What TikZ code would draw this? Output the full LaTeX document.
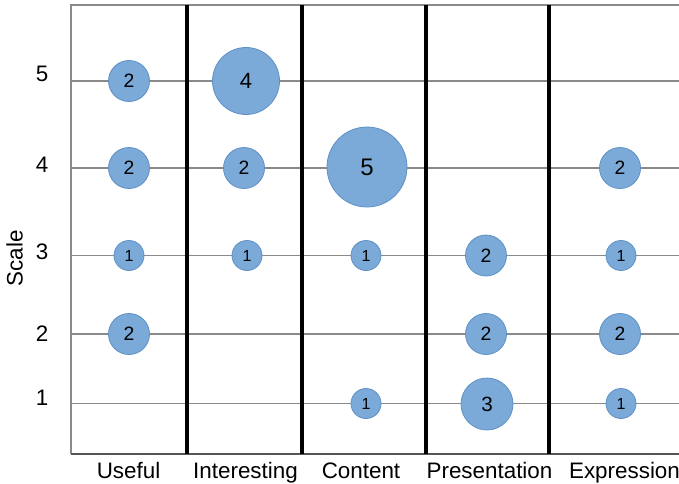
\documentclass[tikz,border=0pt]{standalone}
\usepackage{fontspec}
\setmainfont{Liberation Sans}
\definecolor{bubblefill}{HTML}{7BAAD8}
\definecolor{bubbleline}{HTML}{5E90C6}
\definecolor{gridgray}{HTML}{8A8A8A}
\definecolor{axisgray}{HTML}{555555}
\tikzset{
	bubble/.style={circle,draw=bubbleline,fill=bubblefill,inner sep=0pt,line width=0.6pt},
	one/.style={bubble,minimum size=22.5pt,font=\fontsize{12}{13}\selectfont},
	two/.style={bubble,minimum size=30.75pt,font=\fontsize{14.5}{15}\selectfont},
	three/.style={bubble,minimum size=39pt,font=\fontsize{15.5}{16}\selectfont},
	four/.style={bubble,minimum size=50.25pt,font=\fontsize{16.5}{17}\selectfont},
	five/.style={bubble,minimum size=60pt,font=\fontsize{18}{19}\selectfont},
	axislabel/.style={anchor=base,font=\fontsize{16.8}{18}\selectfont}
}
\begin{document}
\begin{tikzpicture}[x=0.75pt,y=-0.75pt]
		\useasboundingbox (0,0) rectangle (679,483);
		% grid lines
		\draw[gridgray,line width=1.1pt] (71,81) -- (679,81);
		\draw[gridgray,line width=1.1pt] (71,168) -- (679,168);
		\draw[gridgray,line width=1.1pt] (71,255.5) -- (679,255.5);
		\draw[gridgray,line width=1.1pt] (71,334) -- (679,334);
		\draw[gridgray,line width=1.1pt] (71,403.5) -- (679,403.5);
		% frame
		\draw[gridgray,line width=1.1pt] (679,5) -- (71,5) -- (71,454);
		\draw[axisgray,line width=1.1pt] (71,454) -- (679,454);
		\draw[line width=3pt] (187,5) -- (187,454);
		\draw[line width=3pt] (302,5) -- (302,454);
		\draw[line width=3pt] (426,5) -- (426,454);
		\draw[line width=3pt] (549,5) -- (549,454);
		% scale
		\node[axislabel] (s5) at (42,81) {5};
		\node[axislabel] (s4) at (42,172.7) {4};
		\node[axislabel] (s3) at (42,259.3) {3};
		\node[axislabel] (s2) at (42,341.7) {2};
		\node[axislabel] (s1) at (42,405.7) {1};
		\node[axislabel,rotate=90] (scale) at (22.7,258.5) {Scale};
		% categories
		\node[axislabel] (useful) at (128.5,478) {Useful};
		\node[axislabel] (interesting) at (245.5,478) {Interesting};
		\node[axislabel] (content) at (361,478) {Content};
		\node[axislabel] (presentation) at (489.5,478) {Presentation};
		\node[axislabel] (expression) at (624.5,478) {Expression};
		% bubbles
		\node[two] (u5) at (129,81) {2};
		\node[two] (u4) at (129,168) {2};
		\node[one] (u3) at (129,255.5) {1};
		\node[two] (u2) at (129,334) {2};
		\node[four] (i5) at (246,81) {4};
		\node[two] (i4) at (244,168) {2};
		\node[one] (i3) at (247,255.5) {1};
		\node[five] (c4) at (367,167) {5};
		\node[one] (c3) at (366,255.5) {1};
		\node[one] (c1) at (366,403.5) {1};
		\node[two] (p3) at (486,255.5) {2};
		\node[two] (p2) at (486,334) {2};
		\node[three] (p1) at (487,404) {3};
		\node[two] (e4) at (620,168) {2};
		\node[one] (e3) at (621,255.5) {1};
		\node[two] (e2) at (620,334) {2};
		\node[one] (e1) at (621,403.5) {1};
	\end{tikzpicture}
\end{document}
